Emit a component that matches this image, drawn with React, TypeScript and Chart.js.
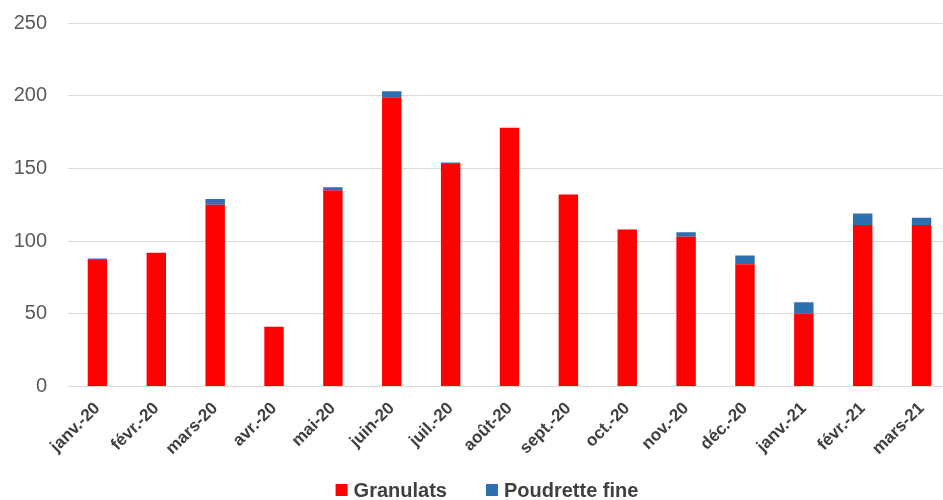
import React, { useEffect, useRef } from "react";
import { Chart, registerables } from "chart.js";

Chart.register(...registerables);

const categories = [
  "janv.-20", "févr.-20", "mars-20", "avr.-20", "mai-20", "juin-20", "juil.-20", "août-20",
  "sept.-20", "oct.-20", "nov.-20", "déc.-20", "janv.-21", "févr.-21", "mars-21",
];
const granulats = [87, 92, 125, 41, 135, 199, 153, 178, 132, 108, 103, 84, 50, 111, 111];
const poudretteFine = [1, 0, 4, 0, 2, 4, 1, 0, 0, 0, 3, 6, 8, 8, 5];
const seriesNames = ["Granulats", "Poudrette fine"];
const seriesColors = ["#ff0000", "#2e6fb0"];
const yMax = 250;
const yStep = 50;

const FONT = "'Liberation Sans', Arial, sans-serif";

// Pins the top of the plot area to the reference position.
const plotTop = {
  id: "plotTop",
  afterLayout(chart: any) {
    const t = 23;
    const y = chart.scales.y;
    if (!y) return;
    y.top = t;
    y.height = y.bottom - t;
    chart.chartArea.top = t;
    chart.chartArea.height = chart.chartArea.bottom - t;
    y.configure();
  },
};

// Draws the legend below the axis with Excel-like spacing (real canvas text).
const bottomLegend = {
  id: "bottomLegend",
  afterDraw(chart: any) {
    const ctx = chart.ctx as CanvasRenderingContext2D;
    const box = 12;
    const gap = 6;
    const between = 39;
    ctx.save();
    ctx.font = `bold 20px ${FONT}`;
    const items = chart.data.datasets.map((d: any) => ({
      label: d.label as string,
      color: d.backgroundColor as string,
      w: ctx.measureText(d.label).width,
    }));
    const total =
      items.reduce((s: number, it: any) => s + box + gap + it.w, 0) + between * (items.length - 1);
    let x = 487 - total / 2;
    const y = 490;
    ctx.textBaseline = "middle";
    ctx.textAlign = "left";
    for (const it of items) {
      ctx.fillStyle = it.color;
      ctx.fillRect(x, y - box / 2, box, box);
      x += box + gap;
      ctx.fillStyle = "#404040";
      ctx.fillText(it.label, x, y + 1);
      x += it.w + between;
    }
    ctx.restore();
  },
};

export default function App() {
  const ref = useRef<HTMLCanvasElement | null>(null);
  useEffect(() => {
    if (!ref.current) return;
    const chart = new Chart(ref.current, {
      type: "bar",
      data: {
        labels: categories,
        datasets: [
          {
            label: seriesNames[0],
            data: granulats,
            backgroundColor: seriesColors[0],
            categoryPercentage: 1,
            barPercentage: 0.33,
          },
          {
            label: seriesNames[1],
            data: poudretteFine,
            backgroundColor: seriesColors[1],
            categoryPercentage: 1,
            barPercentage: 0.33,
          },
        ],
      },
      options: {
        animation: false,
        responsive: true,
        maintainAspectRatio: false,
        layout: { autoPadding: false, padding: { top: 13, left: 13, right: 0, bottom: 29 } },
        plugins: {
          legend: { display: false },
          tooltip: { enabled: false },
        },
        scales: {
          x: {
            stacked: true,
            grid: { display: false, drawTicks: false },
            border: { display: false },
            ticks: {
              minRotation: 45,
              maxRotation: 45,
              padding: 12,
              color: "#404040",
              font: { family: FONT, size: 17, weight: "bold" },
            },
          },
          y: {
            stacked: true,
            min: 0,
            max: yMax,
            grid: { color: "#d9d9d9", drawTicks: false },
            border: { display: false },
            afterFit: (scale: any) => {
              scale.width = 55;
            },
            ticks: {
              stepSize: yStep,
              padding: 21,
              color: "#595959",
              font: { family: FONT, size: 20 },
            },
          },
        },
      },
      plugins: [plotTop, bottomLegend],
    });
    return () => chart.destroy();
  }, []);
  return (
    <div style={{ position: "fixed", left: 0, top: 0, width: 943, height: 500, overflow: "hidden", background: "#fff" }}>
      <div style={{ position: "relative", width: 951, height: 500 }}>
        <canvas ref={ref} />
      </div>
    </div>
  );
}
